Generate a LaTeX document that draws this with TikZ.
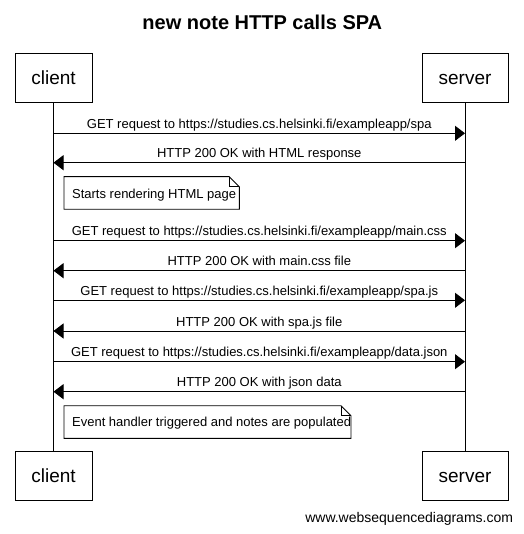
\documentclass[tikz,border=0pt]{standalone}
\usepackage{fontspec}
\setmainfont{Liberation Sans}
\usetikzlibrary{arrows.meta}
\begin{document}
\begin{tikzpicture}[x=1pt,y=-1pt,line width=0.9pt,
  actor/.style={draw,minimum height=49pt,inner sep=0pt,text height=13.6pt,text depth=0pt,font=\fontsize{19}{22}\selectfont},
  msgarrow/.style={-{Triangle[length=10pt,width=15pt]}},
  msglabel/.style={anchor=base,inner sep=0pt,yshift=5pt,font=\fontsize{13}{15}\selectfont},
  notebox/.style={draw,fill=white},
  notetext/.style={anchor=base west,inner sep=0pt,font=\fontsize{13}{15}\selectfont},
  lifeline/.style={draw}]
\useasboundingbox[fill=white] (0,0) rectangle (523,534);
% title
\node[anchor=base,inner sep=0pt,font=\fontsize{20}{24}\selectfont\bfseries] (title) at (262.3,30) {new note HTTP calls SPA};
% actors
\node[actor,minimum width=77pt] (client) at (53.5,77.5) {client};
\node[actor,minimum width=86pt] (server) at (465,77.5) {server};
\node[actor,minimum width=77pt] (clientb) at (53.5,475.5) {client};
\node[actor,minimum width=86pt] (serverb) at (465,475.5) {server};
% lifelines
\draw[lifeline] (client.south) -- (clientb.north);
\draw[lifeline] (server.south) -- (serverb.north);
% message coordinates
\foreach \i/\y in {1/133.3,2/162.7,3/240.7,4/270.7,5/300.3,6/331,7/361.7,8/391.7}{
  \coordinate (c\i) at (53.5,\y);
  \coordinate (s\i) at (465,\y);
}
\draw[msgarrow] (c1) -- (s1) node[midway,msglabel] {GET request to https://studies.cs.helsinki.fi/exampleapp/spa};
\draw[msgarrow] (s2) -- (c2) node[midway,msglabel] {HTTP 200 OK with HTML response};
\draw[msgarrow] (c3) -- (s3) node[midway,msglabel] {GET request to https://studies.cs.helsinki.fi/exampleapp/main.css};
\draw[msgarrow] (s4) -- (c4) node[midway,msglabel] {HTTP 200 OK with main.css file};
\draw[msgarrow] (c5) -- (s5) node[midway,msglabel] {GET request to https://studies.cs.helsinki.fi/exampleapp/spa.js};
\draw[msgarrow] (s6) -- (c6) node[midway,msglabel] {HTTP 200 OK with spa.js file};
\draw[msgarrow] (c7) -- (s7) node[midway,msglabel] {GET request to https://studies.cs.helsinki.fi/exampleapp/data.json};
\draw[msgarrow] (s8) -- (c8) node[midway,msglabel] {HTTP 200 OK with json data};
% note 1
\draw[notebox] (64,176.7) -- (229.3,176.7) -- (239.3,186.7) -- (239.3,209.3) -- (64,209.3) -- cycle;
\draw (229.3,176.7) -- (229.3,186.7) -- (239.3,186.7);
\node[notetext] (note1) at (71.7,198.3) {Starts rendering HTML page};
% note 2
\draw[notebox] (64,405.7) -- (341,405.7) -- (351,415.7) -- (351,438.3) -- (64,438.3) -- cycle;
\draw (341,405.7) -- (341,415.7) -- (351,415.7);
\node[notetext] (note2) at (71.7,426.5) {Event handler triggered and notes are populated};
% watermark
\node[anchor=base east,inner sep=0pt,font=\fontsize{14}{17}\selectfont] (wm) at (513.5,522) {www.websequencediagrams.com};
\end{tikzpicture}
\end{document}
